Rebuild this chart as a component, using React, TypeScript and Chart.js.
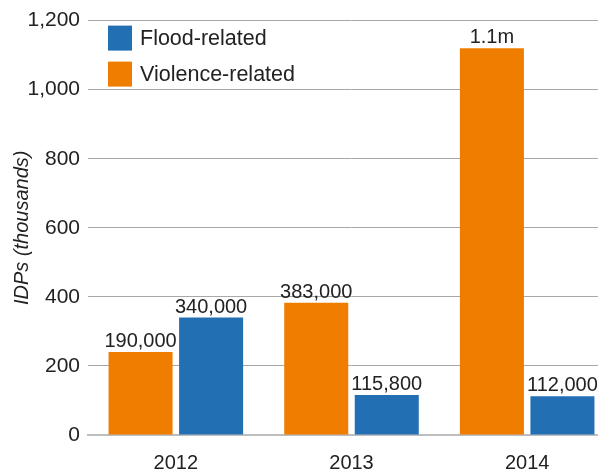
import React, { useEffect, useRef } from "react";
import { Chart, registerables } from "chart.js";

Chart.register(...registerables);

const years = ["2012", "2013", "2014"];
const violenceValues = [240, 383, 1120];
const floodValues = [340, 115.8, 112];
const violenceLabels = ["190,000", "383,000", "1.1m"];
const floodLabels = ["340,000", "115,800", "112,000"];
const yTicks = [0, 200, 400, 600, 800, 1000, 1200];

const ORANGE = "#ef7d00";
const BLUE = "#2270b3";
const FONT = "'Liberation Sans', Arial, sans-serif";
const TEXT = "#222";

const barLabelPlugin = {
  id: "barLabels",
  afterDatasetsDraw(chart: any) {
    const ctx = chart.ctx;
    ctx.save();
    ctx.font = `20px ${FONT}`;
    ctx.fillStyle = TEXT;
    ctx.textAlign = "center";
    ctx.textBaseline = "alphabetic";
    chart.data.datasets.forEach((ds: any, i: number) => {
      const meta = chart.getDatasetMeta(i);
      meta.data.forEach((bar: any, j: number) => {
        ctx.fillText(ds.valueLabels[j], bar.x, bar.y - 5);
      });
    });
    ctx.restore();
  },
};

const legendPlugin = {
  id: "customLegend",
  afterDraw(chart: any) {
    const ctx = chart.ctx;
    const area = chart.chartArea;
    const items = [...chart.data.datasets].reverse();
    ctx.save();
    ctx.font = `21.5px ${FONT}`;
    ctx.textBaseline = "middle";
    ctx.textAlign = "left";
    items.forEach((ds: any, k: number) => {
      const x = area.left + 20;
      const y = area.top + 5 + k * 36;
      ctx.fillStyle = ds.backgroundColor;
      ctx.fillRect(x, y, 24, 25);
      ctx.fillStyle = TEXT;
      ctx.fillText(ds.label, x + 32, y + 13);
    });
    ctx.restore();
  },
};

export default function App() {
  const ref = useRef<HTMLCanvasElement | null>(null);
  useEffect(() => {
    if (!ref.current) return;
    const chart = new Chart(ref.current, {
      type: "bar",
      data: {
        labels: years,
        datasets: [
          {
            label: "Violence-related",
            data: violenceValues,
            backgroundColor: ORANGE,
            valueLabels: violenceLabels,
          } as any,
          {
            label: "Flood-related",
            data: floodValues,
            backgroundColor: BLUE,
            valueLabels: floodLabels,
          } as any,
        ],
      },
      options: {
        animation: false,
        responsive: false,
        maintainAspectRatio: false,
        categoryPercentage: 0.803,
        barPercentage: 0.908,
        layout: { padding: { top: 18, right: 1, left: 0, bottom: 0 } },
        plugins: { legend: { display: false }, tooltip: { enabled: false } },
        scales: {
          x: {
            grid: { display: false },
            border: { display: true, color: "#bdbdbd", width: 2 },
            ticks: { font: { family: FONT, size: 20 }, color: TEXT, padding: 8 },
            afterFit: (s: any) => {
              s.height = 37;
            },
          },
          y: {
            min: 0,
            max: 1200,
            afterBuildTicks: (s: any) => {
              s.ticks = yTicks.map((v) => ({ value: v }));
            },
            grid: { color: "#a8a8a8", lineWidth: 1, drawTicks: false },
            border: { display: false },
            ticks: {
              font: { family: FONT, size: 21 },
              color: TEXT,
              padding: 8,
              callback: (v: any) => Number(v).toLocaleString("en-US"),
            },
            title: {
              display: true,
              text: "IDPs (thousands)",
              font: { family: FONT, size: 20, style: "italic" },
              color: TEXT,
              padding: { top: 10, bottom: 0 },
            },
            afterFit: (s: any) => {
              s.width = 88;
            },
          },
        },
      } as any,
      plugins: [barLabelPlugin, legendPlugin],
    });
    return () => chart.destroy();
  }, []);
  return (
    <div
      style={{
        position: "fixed",
        left: 0,
        top: 0,
        width: 598,
        height: 472,
        overflow: "hidden",
        background: "#fff",
      }}
    >
      <canvas ref={ref} width={616} height={472} style={{ display: "block" }} />
    </div>
  );
}
